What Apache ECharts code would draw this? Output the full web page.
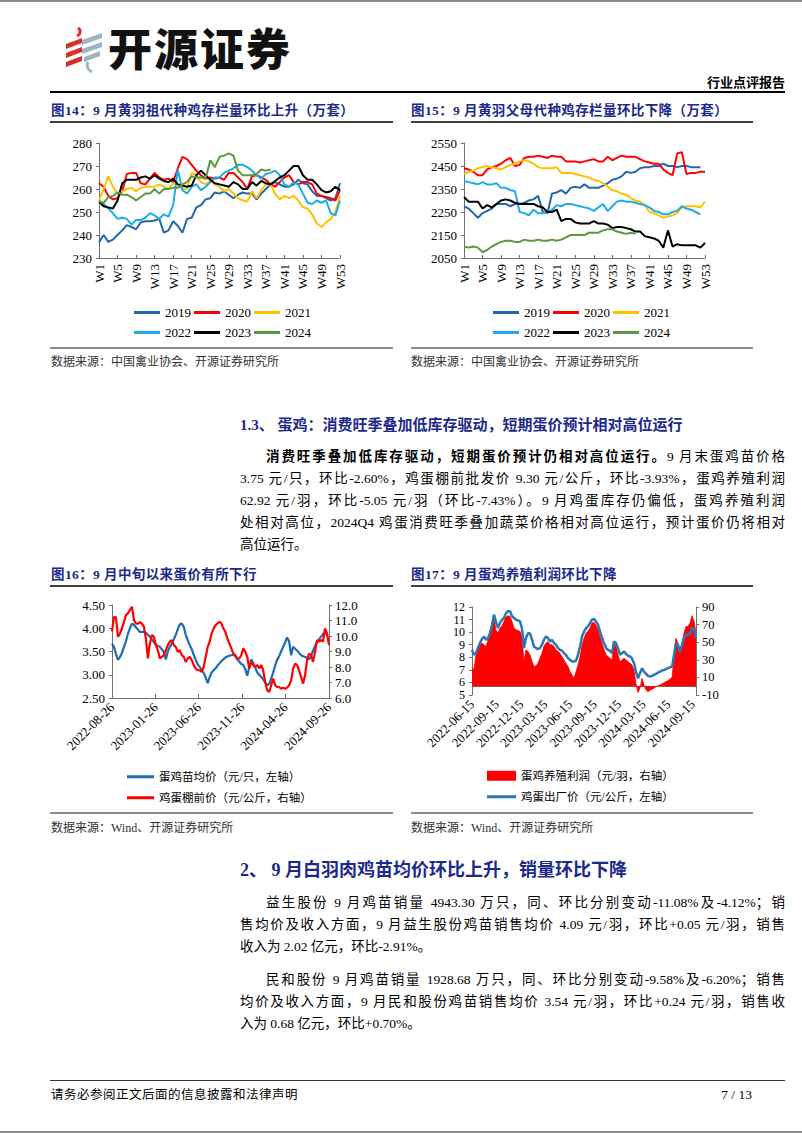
<!DOCTYPE html>
<html><head><meta charset="utf-8">
<script src="https://cdn.jsdelivr.net/npm/echarts@6/dist/echarts.min.js"></script>
<style>
html,body{margin:0;padding:0;background:#fff;}
#page{position:relative;width:802px;height:1133px;overflow:hidden;font-family:"Liberation Serif","Noto Sans CJK SC",serif;color:#000;}
.abs{position:absolute;white-space:nowrap;}
.ttl{font-size:13.5px;font-weight:bold;color:#1b2a8a;line-height:16px;letter-spacing:0.4px;}
.src{font-size:12px;color:#333;line-height:14px;}
.hr{position:absolute;}
.pl{position:absolute;font-size:13.5px;line-height:22px;height:22px;text-align:justify;text-align-last:justify;white-space:nowrap;}
.pl.last{text-align:left;text-align-last:left;}
.chart{position:absolute;}
</style></head>
<body><div id="page">
<div class="hr" style="left:0;top:0;width:802px;height:2px;background:#8c8c8c"></div>
<svg class="abs" style="left:62px;top:26px" width="46" height="48" viewBox="0 0 46 48">
  <path d="M16 2 C19 4 19 8 15 10" stroke="#d9302c" stroke-width="3" fill="none"/>
  <polygon points="4,18 20,12 20,17 4,23" fill="#d9302c"/>
  <polygon points="4,27 20,21 20,26 4,32" fill="#d9302c"/>
  <polygon points="4,36 20,30 20,35 4,41" fill="#d9302c"/>
  <polygon points="20,14 40,7 40,12 20,19" fill="#9db3c6"/>
  <polygon points="20,23 40,16 40,21 20,28" fill="#9db3c6"/>
  <polygon points="22,31 38,25 38,30 22,36" fill="#9db3c6"/>
  <path d="M26 36 C24 40 26 44 30 46" stroke="#9db3c6" stroke-width="3" fill="none"/>
</svg>
<div class="abs" style="left:108px;top:22px;font-family:'Noto Sans CJK SC';font-size:44px;line-height:50px;font-weight:900;letter-spacing:2px;color:#111">开源证券</div>
<div class="abs" style="right:17px;top:74px;font-size:13px;line-height:16px;font-weight:bold;font-family:'Noto Sans CJK SC'">行业点评报告</div>
<div class="hr" style="left:50px;top:91px;width:735px;height:1.5px;background:#000"></div>

<div class="abs ttl" style="left:51px;top:103px">图14：9 月黄羽祖代种鸡存栏量环比上升（万套）</div>
<div class="abs ttl" style="left:411px;top:103px">图15：9 月黄羽父母代种鸡存栏量环比下降（万套）</div>
<div class="hr" style="left:50px;top:121px;width:343px;height:2px;background:#3f3f3f"></div>
<div class="hr" style="left:411px;top:121px;width:342px;height:2px;background:#3f3f3f"></div>
<div id="c14" class="chart" style="left:50px;top:125px;width:345px;height:220px"></div>
<div id="c15" class="chart" style="left:410px;top:125px;width:345px;height:220px"></div>
<div class="hr" style="left:50px;top:347px;width:343px;height:1.5px;background:#8c8c8c"></div>
<div class="hr" style="left:411px;top:347px;width:342px;height:1.5px;background:#8c8c8c"></div>
<div class="abs src" style="left:51px;top:355px">数据来源：中国禽业协会、开源证券研究所</div>
<div class="abs src" style="left:411px;top:355px">数据来源：中国禽业协会、开源证券研究所</div>

<div class="abs" style="left:240px;top:415px;font-size:15px;line-height:20px;font-weight:bold;color:#1b2a8a">1.3、 蛋鸡：消费旺季叠加低库存驱动，短期蛋价预计相对高位运行</div>
<div class="pl" style="left:266px;top:446px;width:519px"><b>消费旺季叠加低库存驱动，短期蛋价预计仍相对高位运行。</b>9 月末蛋鸡苗价格</div>
<div class="pl" style="left:240px;top:468px;width:545px">3.75 元/只，环比-2.60%，鸡蛋棚前批发价 9.30 元/公斤，环比-3.93%，蛋鸡养殖利润</div>
<div class="pl" style="left:240px;top:490px;width:545px">62.92 元/羽，环比-5.05 元/羽（环比-7.43%）。9 月鸡蛋库存仍偏低，蛋鸡养殖利润</div>
<div class="pl" style="left:240px;top:512px;width:545px">处相对高位，2024Q4 鸡蛋消费旺季叠加蔬菜价格相对高位运行，预计蛋价仍将相对</div>
<div class="pl last" style="left:240px;top:534px;width:545px">高位运行。</div>

<div class="abs ttl" style="left:51px;top:567px">图16：9 月中旬以来蛋价有所下行</div>
<div class="abs ttl" style="left:411px;top:567px">图17：9 月蛋鸡养殖利润环比下降</div>
<div class="hr" style="left:50px;top:585px;width:343px;height:2px;background:#3f3f3f"></div>
<div class="hr" style="left:411px;top:585px;width:342px;height:2px;background:#3f3f3f"></div>
<div id="c16" class="chart" style="left:50px;top:590px;width:345px;height:218px"></div>
<div id="c17" class="chart" style="left:410px;top:590px;width:345px;height:218px"></div>
<div class="hr" style="left:50px;top:812px;width:343px;height:1.5px;background:#8c8c8c"></div>
<div class="hr" style="left:411px;top:812px;width:342px;height:1.5px;background:#8c8c8c"></div>
<div class="abs src" style="left:51px;top:821px">数据来源：Wind、开源证券研究所</div>
<div class="abs src" style="left:411px;top:821px">数据来源：Wind、开源证券研究所</div>

<div class="abs" style="left:240px;top:858px;font-size:18px;line-height:24px;font-weight:bold;color:#1b2a8a">2、 9 月白羽肉鸡苗均价环比上升，销量环比下降</div>
<div class="pl" style="left:266px;top:892px;width:519px">益生股份 9 月鸡苗销量 4943.30 万只，同、环比分别变动-11.08%及-4.12%；销</div>
<div class="pl" style="left:240px;top:914px;width:545px">售均价及收入方面，9 月益生股份鸡苗销售均价 4.09 元/羽，环比+0.05 元/羽，销售</div>
<div class="pl last" style="left:240px;top:936px;width:545px">收入为 2.02 亿元，环比-2.91%。</div>
<div class="pl" style="left:266px;top:969px;width:519px">民和股份 9 月鸡苗销量 1928.68 万只，同、环比分别变动-9.58%及-6.20%；销售</div>
<div class="pl" style="left:240px;top:991px;width:545px">均价及收入方面，9 月民和股份鸡苗销售均价 3.54 元/羽，环比+0.24 元/羽，销售收</div>
<div class="pl last" style="left:240px;top:1013px;width:545px">入为 0.68 亿元，环比+0.70%。</div>

<div class="hr" style="left:50px;top:1080px;width:735px;height:1px;background:#333"></div>
<div class="abs" style="left:51px;top:1087px;font-size:12.5px;line-height:16px;letter-spacing:0.5px">请务必参阅正文后面的信息披露和法律声明</div>
<div class="abs" style="right:50px;top:1087px;font-size:13.5px;line-height:16px">7 / 13</div>
<div class="hr" style="left:0;top:1131px;width:802px;height:2px;background:#8c8c8c"></div>
</div>
<script>
// ---------- Data ----------
const weeks = ['W1','W2','W3','W4','W5','W6','W7','W8','W9','W10','W11','W12','W13','W14','W15','W16','W17','W18','W19','W20','W21','W22','W23','W24','W25','W26','W27','W28','W29','W30','W31','W32','W33','W34','W35','W36','W37','W38','W39','W40','W41','W42','W43','W44','W45','W46','W47','W48','W49','W50','W51','W52','W53'];
const yearNames = ['2019','2020','2021','2022','2023','2024'];
// 图14 黄羽祖代
const gp2019 = [236.7,240,237,238,240,242,244.3,243.5,242.5,245.5,246,246,246.3,247,241,242,246,244,241,247,247.5,252,253,255.5,256,258.5,258,259,257.5,256,257.5,258.5,258,258,255.5,258,260,262,263,262,261,261,262,264,262.5,262,259,257,257,256,255,256,262.5];
const gp2020 = [262.5,261,257,255.5,256,259,266.5,267,267,262.5,262,264.5,267,265,264,264.5,263,269,274,273,270.5,268,266,264.5,265,264.5,265,264,267,267,265,263,260,265.5,266,265,264,262,261,263,265,266,263,262,263,263,262,258,257,256.5,256,255,259.5];
const gp2021 = [255,260,265.5,261,258,259,260,260.5,259,260.5,261,261,261,262,261,260,262.5,262,260,260,267,266,263,262,263.5,262,261,259,260,258,256,255,254.5,259,256,259.5,262,262,258,255.5,257,256,257,255,252,251.5,249,245,243.5,245.5,247,250,257];
const gp2022 = [255,253.5,251.5,249.5,247,247.5,247,244.5,246.5,246.5,247.5,249.5,248.5,247,249,248,253,268.5,259.5,258,261,262,259.5,261,263,265,265,267,268,269,270.5,270.5,269.5,268,266,264.5,266.5,267,268,266,262,261,263,262,258,254,253.5,255,254,255,249.5,248.5,255];
const gp2023 = [254.5,252.5,252,251.5,255,262.5,264,264,264,265,265.5,264.5,266,264.5,263.5,263,264.5,262,261.5,261,261.5,266,268,266,264,262.5,262,261.5,261,263,262,260,260,263,261.5,263.5,262.5,262,263.5,265,266,268,270,270,266,264,264,262,259.5,258.5,259,261,259.5];
const gp2024 = [254.5,254,256.5,257,258.5,257.5,257.5,256.5,255,256.5,258,258,260,258,260,260,260.5,260.5,262,263,265.5,265,265,264.5,272.5,269.5,274,274.5,275.5,274.5,268,266,266,266,266.5,268.5,268,268.5];
// 图15 黄羽父母代
const pp2019 = [2275,2265,2245,2225,2245,2255,2265,2285,2285,2285,2275,2285,2285,2290,2300,2305,2320,2250,2245,2330,2335,2345,2330,2355,2360,2355,2370,2355,2355,2355,2365,2375,2390,2395,2405,2425,2420,2425,2440,2445,2445,2450,2450,2460,2450,2450,2445,2450,2450,2445,2445,2445];
const pp2020 = [2440,2435,2425,2410,2410,2435,2445,2450,2460,2475,2485,2450,2455,2485,2490,2490,2495,2490,2485,2495,2490,2490,2470,2470,2470,2465,2470,2475,2480,2470,2470,2490,2475,2485,2495,2490,2490,2490,2480,2470,2465,2460,2460,2435,2420,2410,2505,2510,2415,2420,2420,2425,2425];
const pp2021 = [2415,2425,2430,2440,2445,2450,2445,2440,2435,2445,2455,2460,2470,2475,2470,2460,2445,2440,2440,2440,2445,2420,2420,2420,2415,2410,2405,2400,2390,2385,2375,2360,2345,2340,2330,2325,2310,2300,2295,2280,2250,2245,2235,2225,2230,2235,2245,2270,2275,2275,2275,2270,2295];
const pp2022 = [2385,2380,2375,2370,2380,2370,2370,2375,2355,2355,2345,2340,2250,2245,2235,2260,2245,2245,2250,2260,2280,2275,2285,2285,2280,2275,2270,2265,2255,2270,2285,2255,2275,2295,2300,2295,2295,2290,2285,2280,2270,2255,2250,2240,2240,2250,2255,2275,2265,2260,2250,2240];
const pp2023 = [2315,2295,2295,2295,2265,2280,2270,2285,2300,2305,2300,2290,2285,2285,2285,2285,2275,2270,2250,2250,2260,2210,2220,2220,2205,2200,2200,2200,2210,2200,2200,2195,2180,2185,2185,2180,2175,2165,2165,2145,2140,2135,2125,2095,2170,2100,2110,2105,2105,2105,2105,2095,2115];
const pp2024 = [2100,2095,2100,2095,2075,2085,2100,2110,2120,2125,2125,2120,2120,2130,2125,2125,2130,2125,2125,2130,2125,2130,2140,2150,2150,2150,2150,2160,2160,2160,2170,2175,2175,2165,2160,2155,2160,2155];
// 图16 (weekly, 2022-08-26 .. 2024-09-26)
const eggStart = '2022-08-26', eggEnd = '2024-09-26';
const eggTickLabels = ['2022-08-26','2023-01-26','2023-06-26','2023-11-26','2024-04-26','2024-09-26'];
const chickPrice = [3.67,3.60,3.45,3.32,3.38,3.47,3.60,3.72,3.88,4.00,4.10,4.07,4.02,3.97,3.92,3.92,3.92,3.90,3.86,3.82,3.76,3.70,3.65,3.62,3.60,3.55,3.49,3.33,3.50,3.60,3.67,3.76,3.86,3.98,4.08,4.10,4.03,3.86,3.74,3.64,3.55,3.43,3.32,3.22,3.17,3.10,3.04,2.94,2.82,2.95,3.05,3.10,3.14,3.20,3.25,3.29,3.33,3.37,3.39,3.41,3.42,3.43,3.40,3.33,3.28,3.23,3.21,3.12,2.98,3.17,3.33,3.25,3.15,3.05,3.00,2.95,2.90,2.83,2.78,2.80,2.92,3.05,3.20,3.32,3.40,3.50,3.60,3.70,3.80,3.72,3.42,3.60,3.56,3.52,3.47,3.42,3.40,3.38,3.37,3.33,3.40,3.52,3.62,3.70,3.76,3.82,3.87,3.92,3.85,3.72];
const eggFarmPrice = [10.3,11.24,11.2,9.95,10.16,10.5,10.9,11.35,11.46,11.68,11.89,11.03,10.8,10.8,10.9,10.8,10.6,9.84,8.55,9.5,10.06,9.95,9.41,9.09,8.55,8.65,8.76,9.09,9.41,9.63,9.73,9.41,9.3,8.98,9.09,8.76,8.65,8.33,8.55,8.65,8.44,8.12,7.9,7.79,7.79,7.68,8.0,8.65,9.3,9.63,10.17,10.49,10.7,10.81,10.92,10.81,10.49,10.27,9.84,9.52,9.2,8.87,8.76,8.55,8.55,8.76,9.2,8.98,8.65,7.9,8.33,8.12,8.0,8.12,7.9,8.12,7.79,7.04,6.5,6.39,6.82,7.25,6.82,6.71,6.71,6.6,6.67,6.6,6.67,6.82,7.14,7.9,8.22,8.12,7.79,7.36,6.93,7.47,8.44,8.87,8.76,8.33,8.98,9.73,9.63,9.73,9.63,10.49,10.17,9.41];
// 图17 (about weekly, 2022-06-15 .. 2024-09-27)
const profStart = '2022-06-15', profEnd = '2024-09-27';
const profTickLabels = ['2022-06-15','2022-09-15','2022-12-15','2023-03-15','2023-06-15','2023-09-15','2023-12-15','2024-03-15','2024-06-15','2024-09-15'];
const layerProfit = [21.6,18.5,35.6,43.2,47,49,47,45,52.7,62.2,71.7,77.4,64,60.3,66,68.7,73.6,78.6,80.1,79.3,73.6,66,64.1,63.4,62.2,56.5,28,41.3,39.4,35.6,28,22.3,23.1,26.1,31.8,37.5,45.1,48.9,50.8,47,47,45.1,41.3,39.4,37.5,33.7,29.9,26.1,22.3,16.6,12.8,9,16.6,24.2,33.7,47,54.6,60.3,62.2,66,71.7,72.5,69.8,64.1,56.5,48.9,41.3,35.6,33.7,31.8,29.9,48.9,45.1,35.6,28,29.9,31.8,29.9,28,26.1,24.2,18.5,3.3,-7.3,-2.4,9,1.4,-4.3,-6.2,-4.3,-3.5,-2.4,-0.5,0.3,1.4,2.5,4,5.2,6.3,7.9,10.2,33.7,54.6,48.9,37.5,47,60.3,68,68,71.7,80.1,73.6,60.3];
const eggExFactory = [8.59,8.19,8.33,8.73,9.13,9.45,9.66,9.39,9.53,9.92,10.59,11.39,10.86,10.32,10.72,10.99,11.12,11.52,11.66,11.66,11.26,11.12,10.99,10.94,10.86,10.32,8.73,9.53,9.92,9.92,9.39,8.86,8.73,8.65,8.73,8.99,9.39,9.66,9.53,9.26,9.39,9.13,8.99,8.73,8.59,8.54,8.33,8.19,7.93,7.80,7.66,7.66,7.74,8.19,8.86,9.66,10.06,10.32,10.46,10.72,10.99,11.04,10.86,10.59,10.06,9.53,9.13,8.73,8.59,8.51,8.33,9.26,9.13,8.73,8.19,8.33,8.46,8.27,8.11,8.06,7.93,7.53,6.86,6.33,6.73,7.13,6.86,6.68,6.52,6.46,6.52,6.60,6.68,6.78,6.86,6.94,7.0,7.05,7.13,7.21,7.26,8.19,9.13,8.99,8.46,8.99,9.53,9.79,9.79,9.92,10.32,10.24,9.53];

// ---------- helpers ----------
const FONT = "'Liberation Serif','Noto Sans CJK SC',serif";
const DAY = 86400000;
function utc(s){const p=s.split('-').map(Number);return Date.UTC(p[0],p[1]-1,p[2]);}
function pad(n){return n<10?'0'+n:''+n;}
function fmtDate(ms){const d=new Date(ms);return d.getUTCFullYear()+'-'+pad(d.getUTCMonth()+1)+'-'+pad(d.getUTCDate());}
function spread(startStr,endStr,vals){
  const s=utc(startStr), span=Math.round((utc(endStr)-s)/DAY), n=vals.length;
  return vals.map((v,k)=>[s+Math.round(k*span/(n-1))*DAY, v]);
}
const axisLineStyle = {show:true, lineStyle:{color:'#6f6f6f', width:1}};
const labelStyle = {color:'#000', fontFamily:FONT, fontSize:13};
const yearColors = ['#2266ad','#ff0000','#ffc000','#1badea','#000000','#5b9a3c'];

function weekChart(id, seriesArr, min, max, interval, gridLeft, legendLeft){
  const c = echarts.init(document.getElementById(id), null, {renderer:'svg'});
  c.setOption({
    animation:false,
    grid:{left:gridLeft, top:18, width:241, height:115},
    legend:[
      {data:yearNames.slice(0,3), top:176, left:legendLeft, icon:'rect', itemWidth:26, itemHeight:3, itemGap:3, textStyle:{...labelStyle}},
      {data:yearNames.slice(3), top:196, left:legendLeft, icon:'rect', itemWidth:26, itemHeight:3, itemGap:3, textStyle:{...labelStyle}}
    ],
    xAxis:{type:'category', data:weeks, boundaryGap:false, axisLine:axisLineStyle,
      axisTick:{show:true, inside:true, length:3, interval:3, lineStyle:{color:'#6f6f6f'}},
      axisLabel:{...labelStyle, interval:3, rotate:90, margin:6}},
    yAxis:{type:'value', min:min, max:max, interval:interval, axisLine:axisLineStyle,
      axisTick:{show:true, length:3, lineStyle:{color:'#6f6f6f'}}, splitLine:{show:false},
      axisLabel:{...labelStyle, margin:7, formatter:v=>String(v)}},
    series: seriesArr.map((d,i)=>({name:yearNames[i], type:'line', data:d, showSymbol:false, symbol:'none',
      lineStyle:{width:2, color:yearColors[i]}, itemStyle:{color:yearColors[i]}}))
  });
}
weekChart('c14', [gp2019,gp2020,gp2021,gp2022,gp2023,gp2024], 230, 280, 10, 49, 79);
weekChart('c15', [pp2019,pp2020,pp2021,pp2022,pp2023,pp2024], 2050, 2550, 100, 54, 78);

function dateXAxis(startStr, endStr, tickStrs){
  const ticks = tickStrs.map(utc);
  return {type:'value', min:utc(startStr), max:utc(endStr), axisLine:axisLineStyle, splitLine:{show:false},
    axisTick:{show:true, inside:true, length:4, customValues:ticks, lineStyle:{color:'#6f6f6f'}},
    axisLabel:{...labelStyle, rotate:45, margin:7, customValues:ticks, hideOverlap:false, formatter:v=>fmtDate(v)}};
}

// 图16
(function(){
  const c = echarts.init(document.getElementById('c16'), null, {renderer:'svg'});
  const n1='蛋鸡苗均价（元/只，左轴）', n2='鸡蛋棚前价（元/公斤，右轴）';
  c.setOption({
    animation:false,
    grid:{left:62, top:15, width:217, height:93},
    legend:[
      {data:[n1], top:176, left:72, icon:'rect', itemWidth:27, itemHeight:3, textStyle:{...labelStyle, fontSize:11.5}},
      {data:[n2], top:197, left:72, icon:'rect', itemWidth:27, itemHeight:3, textStyle:{...labelStyle, fontSize:11.5}}
    ],
    xAxis: dateXAxis(eggStart, eggEnd, eggTickLabels),
    yAxis:[
      {type:'value', min:2.5, max:4.5, interval:0.5, axisLine:axisLineStyle, splitLine:{show:false},
        axisTick:{show:true,length:3,lineStyle:{color:'#6f6f6f'}}, axisLabel:{...labelStyle, margin:7, formatter:v=>v.toFixed(2)}},
      {type:'value', min:6, max:12, interval:1, position:'right', axisLine:axisLineStyle, splitLine:{show:false},
        axisTick:{show:true,length:3,lineStyle:{color:'#6f6f6f'}}, axisLabel:{...labelStyle, margin:6, formatter:v=>v.toFixed(1)}}
    ],
    series:[
      {name:n1, type:'line', yAxisIndex:0, data:spread(eggStart,eggEnd,chickPrice), showSymbol:false, symbol:'none', lineStyle:{width:2.2,color:'#1f6cb0'}, itemStyle:{color:'#1f6cb0'}, z:3},
      {name:n2, type:'line', yAxisIndex:1, data:spread(eggStart,eggEnd,eggFarmPrice), showSymbol:false, symbol:'none', lineStyle:{width:2.2,color:'#ff0000'}, itemStyle:{color:'#ff0000'}, z:4}
    ]
  });
})();

// 图17
(function(){
  const c = echarts.init(document.getElementById('c17'), null, {renderer:'svg'});
  const n1='蛋鸡养殖利润（元/羽，右轴）', n2='鸡蛋出厂价（元/公斤，左轴）';
  const yLab = {...labelStyle, fontSize:12, lineHeight:12, showMinLabel:true, showMaxLabel:true, hideOverlap:false};
  c.setOption({
    animation:false,
    grid:{left:62, top:17, width:224, height:88},
    legend:[
      {data:[n1], top:175, left:72, icon:'rect', itemWidth:29, itemHeight:10, textStyle:{...labelStyle, fontSize:11.5}},
      {data:[n2], top:196, left:72, icon:'rect', itemWidth:29, itemHeight:3, textStyle:{...labelStyle, fontSize:11.5}}
    ],
    xAxis: dateXAxis(profStart, profEnd, profTickLabels),
    yAxis:[
      {type:'value', min:5, max:12, interval:1, axisLine:axisLineStyle, splitLine:{show:false},
        axisTick:{show:true,length:3,lineStyle:{color:'#6f6f6f'}}, axisLabel:{...yLab, margin:7}},
      {type:'value', min:-10, max:90, interval:20, position:'right', axisLine:axisLineStyle, splitLine:{show:false},
        axisTick:{show:true,length:3,lineStyle:{color:'#6f6f6f'}}, axisLabel:{...yLab, fontSize:12.5, margin:6}}
    ],
    series:[
      {name:n1, type:'line', yAxisIndex:1, data:spread(profStart,profEnd,layerProfit), showSymbol:false, symbol:'none',
        lineStyle:{width:0.8,color:'#ff0000'}, areaStyle:{color:'#ff0000', opacity:1}, itemStyle:{color:'#ff0000'}, z:2},
      {name:n2, type:'line', yAxisIndex:0, data:spread(profStart,profEnd,eggExFactory), showSymbol:false, symbol:'none',
        lineStyle:{width:2.5,color:'#2e75b6'}, itemStyle:{color:'#2e75b6'}, z:3}
    ]
  });
})();
</script>
</body></html>
